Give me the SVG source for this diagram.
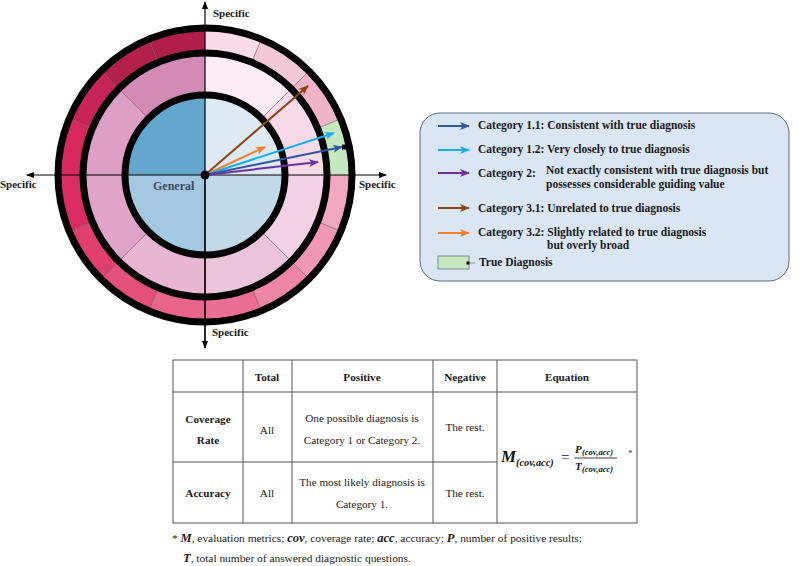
<svg xmlns="http://www.w3.org/2000/svg" width="799" height="566" viewBox="0 0 799 566">
<style>
.lbl{font-family:"Liberation Serif","Times New Roman",serif;font-weight:bold;fill:#1a1a1a}
.leg{font-family:"Liberation Serif","Times New Roman",serif;font-weight:bold;font-size:11.5px;fill:#1a1a1a}
.cell{font-family:"Liberation Serif","Times New Roman",serif;font-size:11.2px;fill:#1a1a1a;text-anchor:middle}
.hd{font-weight:bold}
.math{font-family:"Liberation Serif","Times New Roman",serif;font-weight:bold;font-style:italic;fill:#111}
.ob{fill:none;stroke-width:25}
.mb{fill:none;stroke-width:42}
.sep{stroke:#6a4858;stroke-width:0.6}
.ring{fill:none;stroke:#000;stroke-width:7}
.axis{stroke:#000;stroke-width:1.2}
.arr{stroke-width:2;fill:none}
.tb{stroke:#555;stroke-width:1;fill:none}
</style>
<defs>
<marker id="ax" markerWidth="8" markerHeight="6" refX="7" refY="3" orient="auto" markerUnits="userSpaceOnUse"><path d="M0,0 L8,3 L0,6 z" fill="#000"/></marker>
<marker id="mBr" markerWidth="10" markerHeight="8" refX="9" refY="4" orient="auto" markerUnits="userSpaceOnUse"><path d="M0,0 L10,4 L0,8 L2.5,4 z" fill="#8b4513"/></marker>
<marker id="mOr" markerWidth="10" markerHeight="8" refX="9" refY="4" orient="auto" markerUnits="userSpaceOnUse"><path d="M0,0 L10,4 L0,8 L2.5,4 z" fill="#f08030"/></marker>
<marker id="mLb" markerWidth="10" markerHeight="8" refX="9" refY="4" orient="auto" markerUnits="userSpaceOnUse"><path d="M0,0 L10,4 L0,8 L2.5,4 z" fill="#17aef0"/></marker>
<marker id="mDb" markerWidth="10" markerHeight="8" refX="9" refY="4" orient="auto" markerUnits="userSpaceOnUse"><path d="M0,0 L10,4 L0,8 L2.5,4 z" fill="#2e57a0"/></marker>
<marker id="mPu" markerWidth="10" markerHeight="8" refX="9" refY="4" orient="auto" markerUnits="userSpaceOnUse"><path d="M0,0 L10,4 L0,8 L2.5,4 z" fill="#7030a0"/></marker>
</defs>
<rect width="799" height="566" fill="#fff"/>

<g id="inner-disk">
<path d="M205,175 L285,175 A80,80 0 0 0 205,95 Z" fill="#dde9f3"/>
<path d="M205,175 L205,95 A80,80 0 0 0 125,175 Z" fill="#65a6cf"/>
<path d="M205,175 L125,175 A80,80 0 0 0 205,255 Z" fill="#a4c8e1"/>
<path d="M205,175 L205,255 A80,80 0 0 0 285,175 Z" fill="#c2d9ea"/>
</g>

<g id="middle-band">
<path class="mb" stroke="#f6dae8" d="M306,175 A101,101 0 0 0 276.42,103.58"/>
<path class="mb" stroke="#fcedf4" d="M276.42,103.58 A101,101 0 0 0 205,74"/>
<path class="mb" stroke="#d38ab5" d="M205,74 A101,101 0 0 0 133.58,103.58"/>
<path class="mb" stroke="#dd9fc3" d="M133.58,103.58 A101,101 0 0 0 104,175"/>
<path class="mb" stroke="#dfa4c7" d="M104,175 A101,101 0 0 0 133.58,246.42"/>
<path class="mb" stroke="#e8b5d2" d="M133.58,246.42 A101,101 0 0 0 205,276"/>
<path class="mb" stroke="#ecc4da" d="M205,276 A101,101 0 0 0 276.42,246.42"/>
<path class="mb" stroke="#f1d1e3" d="M276.42,246.42 A101,101 0 0 0 306,175"/>
</g>

<g id="outer-band">
<path class="ob" stroke="#c6e8c1" d="M339.5,175 A134.5,134.5 0 0 0 329.26,123.53"/>
<path class="ob" stroke="#f1b3c8" d="M329.26,123.53 A134.5,134.5 0 0 0 300.11,79.89"/>
<path class="ob" stroke="#f5c8d8" d="M300.11,79.89 A134.5,134.5 0 0 0 256.47,50.74"/>
<path class="ob" stroke="#f9dce7" d="M256.47,50.74 A134.5,134.5 0 0 0 205,40.5"/>
<path class="ob" stroke="#b11e4a" d="M205,40.5 A134.5,134.5 0 0 0 153.53,50.74"/>
<path class="ob" stroke="#b3204c" d="M153.53,50.74 A134.5,134.5 0 0 0 109.89,79.89"/>
<path class="ob" stroke="#c82358" d="M109.89,79.89 A134.5,134.5 0 0 0 80.74,123.53"/>
<path class="ob" stroke="#d8295f" d="M80.74,123.53 A134.5,134.5 0 0 0 70.5,175"/>
<path class="ob" stroke="#da2b62" d="M70.5,175 A134.5,134.5 0 0 0 80.74,226.47"/>
<path class="ob" stroke="#e03e6f" d="M80.74,226.47 A134.5,134.5 0 0 0 109.89,270.11"/>
<path class="ob" stroke="#e44f7b" d="M109.89,270.11 A134.5,134.5 0 0 0 153.53,299.26"/>
<path class="ob" stroke="#e86589" d="M153.53,299.26 A134.5,134.5 0 0 0 205,309.5"/>
<path class="ob" stroke="#ea6d95" d="M205,309.5 A134.5,134.5 0 0 0 256.47,299.26"/>
<path class="ob" stroke="#ed86a6" d="M256.47,299.26 A134.5,134.5 0 0 0 300.11,270.11"/>
<path class="ob" stroke="#ef97b4" d="M300.11,270.11 A134.5,134.5 0 0 0 329.26,226.47"/>
<path class="ob" stroke="#f2a7c0" d="M329.26,226.47 A134.5,134.5 0 0 0 339.5,175"/>
</g>

<g id="separators">
<line class="sep" x1="317.71" y1="128.31" x2="340.81" y2="118.75"/>
<line class="sep" x1="291.27" y1="88.73" x2="308.94" y2="71.06"/>
<line class="sep" x1="251.69" y1="62.29" x2="261.25" y2="39.19"/>
<line class="sep" x1="158.31" y1="62.29" x2="148.75" y2="39.19"/>
<line class="sep" x1="118.73" y1="88.73" x2="101.06" y2="71.06"/>
<line class="sep" x1="92.29" y1="128.31" x2="69.19" y2="118.75"/>
<line class="sep" x1="92.29" y1="221.69" x2="69.19" y2="231.25"/>
<line class="sep" x1="118.73" y1="261.27" x2="101.06" y2="278.94"/>
<line class="sep" x1="158.31" y1="287.71" x2="148.75" y2="310.81"/>
<line class="sep" x1="251.69" y1="287.71" x2="261.25" y2="310.81"/>
<line class="sep" x1="291.27" y1="261.27" x2="308.94" y2="278.94"/>
<line class="sep" x1="317.71" y1="221.69" x2="340.81" y2="231.25"/>
<line class="sep" x1="261.57" y1="118.43" x2="291.27" y2="88.73"/>
<line class="sep" x1="148.43" y1="118.43" x2="118.73" y2="88.73"/>
<line class="sep" x1="148.43" y1="231.57" x2="118.73" y2="261.27"/>
<line class="sep" x1="261.57" y1="231.57" x2="291.27" y2="261.27"/>
</g>

<g id="rings">
<circle class="ring" cx="205" cy="175" r="80"/>
<circle class="ring" cx="205" cy="175" r="122"/>
<circle class="ring" cx="205" cy="175" r="147"/>
<rect x="342" y="144.5" width="6" height="5" fill="#000"/>
</g>

<g id="axes">
<line class="axis" x1="205" y1="348" x2="205" y2="2" marker-end="url(#ax)"/>
<line class="axis" x1="205" y1="175" x2="205" y2="348" marker-end="url(#ax)"/>
<line class="axis" x1="205" y1="175" x2="27" y2="175" marker-end="url(#ax)"/>
<line class="axis" x1="205" y1="175" x2="386" y2="175" marker-end="url(#ax)"/>
<text class="lbl" x="213" y="17" font-size="11">Specific</text>
<text class="lbl" x="0" y="188" font-size="11">Specific</text>
<text class="lbl" x="359" y="188" font-size="11">Specific</text>
<text class="lbl" x="212" y="336" font-size="11">Specific</text>
<text class="lbl" x="153" y="190" font-size="12" style="fill:#3b4a5c">General</text>
</g>

<g id="connectors">
<line class="arr" stroke="#8b4513" x1="205" y1="175" x2="308" y2="86" marker-end="url(#mBr)"/>
<line class="arr" stroke="#f08030" x1="205" y1="175" x2="265" y2="147" marker-end="url(#mOr)"/>
<line class="arr" stroke="#17aef0" x1="205" y1="175" x2="334" y2="133" marker-end="url(#mLb)"/>
<line class="arr" stroke="#2e57a0" x1="205" y1="175" x2="342" y2="147" marker-end="url(#mDb)"/>
<line class="arr" stroke="#7030a0" x1="205" y1="175" x2="318" y2="162" marker-end="url(#mPu)"/>
</g>
<g id="center">
<circle cx="205" cy="175" r="4.5" fill="#000"/>
</g>

<g id="legend">
<rect x="420" y="113" width="369" height="168" rx="20" ry="20" fill="#dae6f3" stroke="#5a6a80" stroke-width="1"/>
<line class="arr" stroke="#2e57a0" x1="438" y1="126" x2="469" y2="126" marker-end="url(#mDb)"/>
<line class="arr" stroke="#17aef0" x1="438" y1="150" x2="469" y2="150" marker-end="url(#mLb)"/>
<line class="arr" stroke="#7030a0" x1="438" y1="173" x2="469" y2="173" marker-end="url(#mPu)"/>
<line class="arr" stroke="#8b4513" x1="438" y1="208" x2="469" y2="208" marker-end="url(#mBr)"/>
<line class="arr" stroke="#f08030" x1="438" y1="233" x2="469" y2="233" marker-end="url(#mOr)"/>
<rect x="438" y="256" width="31" height="13" fill="#c6e8c1" stroke="#7a8a9a" stroke-width="1"/>
<rect x="466.5" y="261.5" width="3" height="3" fill="#000"/>
<line x1="469" y1="263" x2="475" y2="263" stroke="#777" stroke-width="0.8"/>
<text class="leg" x="478" y="129">Category 1.1: Consistent with true diagnosis</text>
<text class="leg" x="478" y="153">Category 1.2: Very closely to true diagnosis</text>
<text class="leg" x="478" y="177">Category 2:</text>
<text class="leg" x="546" y="174">Not exactly consistent with true diagnosis but</text>
<text class="leg" x="546" y="188">possesses considerable guiding value</text>
<text class="leg" x="478" y="212">Category 3.1: Unrelated to true diagnosis</text>
<text class="leg" x="478" y="236">Category 3.2: Slightly related to true diagnosis</text>
<text class="leg" x="547" y="249">but overly broad</text>
<text class="leg" x="479" y="266">True Diagnosis</text>
</g>

<g id="table">
<rect class="tb" x="173" y="360" width="464" height="163" stroke="#888"/>
<line class="tb" x1="173" y1="392" x2="637" y2="392"/>
<line class="tb" x1="173" y1="462" x2="497" y2="462"/>
<line class="tb" x1="243" y1="360" x2="243" y2="523"/>
<line class="tb" x1="292" y1="360" x2="292" y2="523"/>
<line class="tb" x1="433" y1="360" x2="433" y2="523"/>
<line class="tb" x1="497" y1="360" x2="497" y2="523"/>
<text class="cell hd" x="267" y="381">Total</text>
<text class="cell hd" x="362" y="381">Positive</text>
<text class="cell hd" x="465" y="381">Negative</text>
<text class="cell hd" x="567" y="381">Equation</text>
<text class="cell hd" x="208" y="423">Coverage</text>
<text class="cell hd" x="208" y="444">Rate</text>
<text class="cell" x="267" y="434">All</text>
<text class="cell" x="362" y="422">One possible diagnosis is</text>
<text class="cell" x="362" y="444">Category 1 or Category 2.</text>
<text class="cell" x="465" y="431">The rest.</text>
<text class="cell hd" x="208" y="497">Accuracy</text>
<text class="cell" x="267" y="497">All</text>
<text class="cell" x="362" y="486">The most likely diagnosis is</text>
<text class="cell" x="362" y="508">Category 1.</text>
<text class="cell" x="465" y="497">The rest.</text>
<text class="math" x="501" y="462" font-size="17">M</text>
<text class="math" x="516" y="466" font-size="10.3">(cov,acc)</text>
<text x="561" y="462" font-family="Liberation Serif, serif" font-size="15" fill="#111">=</text>
<text class="math" x="575" y="453" font-size="11">P</text>
<text class="math" x="582" y="455" font-size="8.5">(cov,acc)</text>
<line x1="574" y1="458" x2="617" y2="458" stroke="#111" stroke-width="0.8"/>
<text class="math" x="575" y="470" font-size="11">T</text>
<text class="math" x="582" y="472" font-size="8.5">(cov,acc)</text>
<text x="628" y="456" font-family="Liberation Serif, serif" font-size="9" fill="#333">*</text>
</g>

<g id="footnote" font-family="Liberation Serif, Times New Roman, serif" font-size="11.4" fill="#1a1a1a">
<text x="172" y="542">* <tspan font-weight="bold" font-style="italic" font-size="12.5">M</tspan>, evaluation metrics; <tspan font-weight="bold" font-style="italic" font-size="12.5">cov</tspan>, coverage rate; <tspan font-weight="bold" font-style="italic" font-size="12.5">acc</tspan>, accuracy; <tspan font-weight="bold" font-style="italic" font-size="12.5">P</tspan>, number of positive results;</text>
<text x="183" y="562"><tspan font-weight="bold" font-style="italic" font-size="12.5">T</tspan>, total number of answered diagnostic questions.</text>
</g>
</svg>
